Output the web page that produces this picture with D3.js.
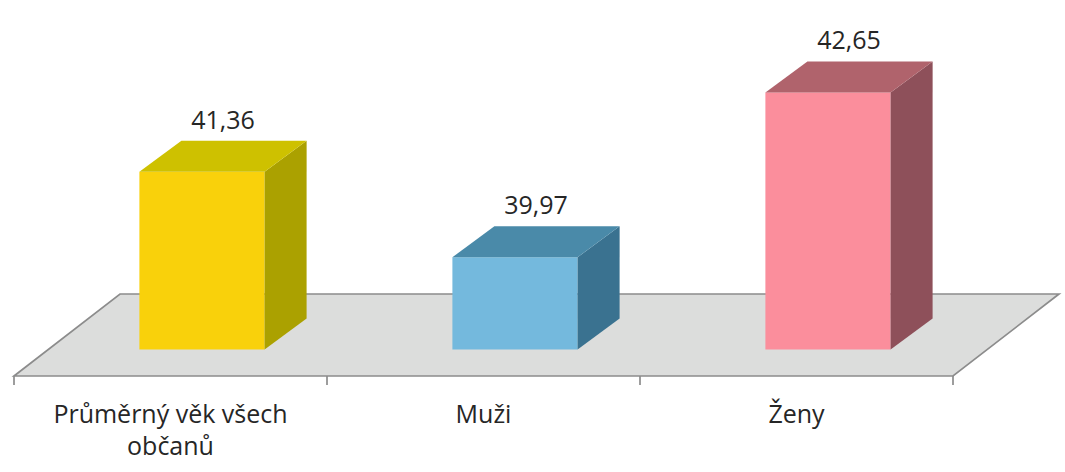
<!DOCTYPE html>
<html>
<head>
<meta charset="utf-8">
<script src="https://cdn.jsdelivr.net/npm/d3@7"></script>
<style>
  body { margin: 0; background: #fff; }
  text { font-family: "Open Sans", sans-serif; fill: #262626; }
</style>
</head>
<body>
<div id="chart"></div>
<script>
// data
var categories = ["Průměrný věk všech občanů", "Muži", "Ženy"];
var values = [41.36, 39.97, 42.65];
var valueLabels = ["41,36", "39,97", "42,65"];
var frontColors = ["#f9d10b", "#74b9dd", "#fb8e9c"];
var topColors = ["#cec100", "#4a8aa9", "#b0636c"];
var sideColors = ["#aba100", "#3a7290", "#8e505a"];

var width = 1065, height = 472;

var svg = d3.select("#chart").append("svg")
    .attr("width", width)
    .attr("height", height);

// floor front edge
var floorY = 376;
var floorDepth = {dx: 106, dy: -82};
// bar placement inside the floor depth
var barFront = {dx: 31.5, dy: -26.5};
var barDepth = {dx: 42, dy: -31};

var x = d3.scaleBand()
    .domain(categories)
    .range([14, 953])
    .padding(0);

var barW = x.bandwidth() * 0.4;

var baseY = floorY + barFront.dy;
var y = d3.scaleLinear()
    .domain([38.47, 43])
    .range([baseY, baseY - 4.53 * 61.5]);

// floor
var floor = [
    [14, floorY],
    [953, floorY],
    [953 + floorDepth.dx, floorY + floorDepth.dy],
    [14 + floorDepth.dx, floorY + floorDepth.dy]
];
svg.append("polygon")
    .attr("points", floor.map(function (p) { return p.join(","); }).join(" "))
    .style("fill", "#dcdddc")
    .style("stroke", "#8c8c8c")
    .style("stroke-width", 1.7)
    .style("stroke-linejoin", "miter");

// ticks on the front edge
var tickPos = categories.map(function (c) { return x(c); }).concat([x.range()[1]]);
svg.selectAll("line.tick")
    .data(tickPos)
    .enter().append("line")
    .attr("class", "tick")
    .attr("x1", function (d) { return d; })
    .attr("x2", function (d) { return d; })
    .attr("y1", floorY)
    .attr("y2", floorY + 9)
    .style("stroke", "#8c8c8c")
    .style("stroke-width", 1.7);

// bars
var bars = svg.selectAll("g.bar")
    .data(values)
    .enter().append("g")
    .attr("class", "bar");

function pts(arr) {
    return arr.map(function (p) { return p.join(","); }).join(" ");
}

bars.each(function (v, i) {
    var g = d3.select(this);
    var cx = x(categories[i]) + x.bandwidth() / 2 + barFront.dx;
    var x0 = cx - barW / 2, x1 = cx + barW / 2;
    var yb = y(y.domain()[0]), yt = y(v);
    var ddx = barDepth.dx, ddy = barDepth.dy;

    // front
    g.append("rect")
        .attr("x", x0).attr("y", yt)
        .attr("width", barW).attr("height", yb - yt)
        .style("fill", frontColors[i]);
    // side
    g.append("polygon")
        .attr("points", pts([[x1, yt], [x1 + ddx, yt + ddy], [x1 + ddx, yb + ddy], [x1, yb]]))
        .style("fill", sideColors[i]);
    // top
    g.append("polygon")
        .attr("points", pts([[x0, yt], [x0 + ddx, yt + ddy], [x1 + ddx, yt + ddy], [x1, yt]]))
        .style("fill", topColors[i]);
    // value label
    g.append("text")
        .attr("x", cx + ddx / 2)
        .attr("y", yt + ddy - 12)
        .attr("text-anchor", "middle")
        .style("font-size", "25px")
        .text(valueLabels[i]);
});

// category labels
var catLines = [["Průměrný věk všech", "občanů"], ["Muži"], ["Ženy"]];
svg.selectAll("text.cat")
    .data(categories)
    .enter().append("text")
    .attr("class", "cat")
    .attr("text-anchor", "middle")
    .attr("y", 423)
    .style("font-size", "25px")
    .each(function (d, i) {
        var t = d3.select(this);
        catLines[i].forEach(function (line, j) {
            t.append("tspan")
                .attr("x", x(d) + x.bandwidth() / 2)
                .attr("dy", j === 0 ? 0 : 32)
                .text(line);
        });
    });
</script>
</body>
</html>
